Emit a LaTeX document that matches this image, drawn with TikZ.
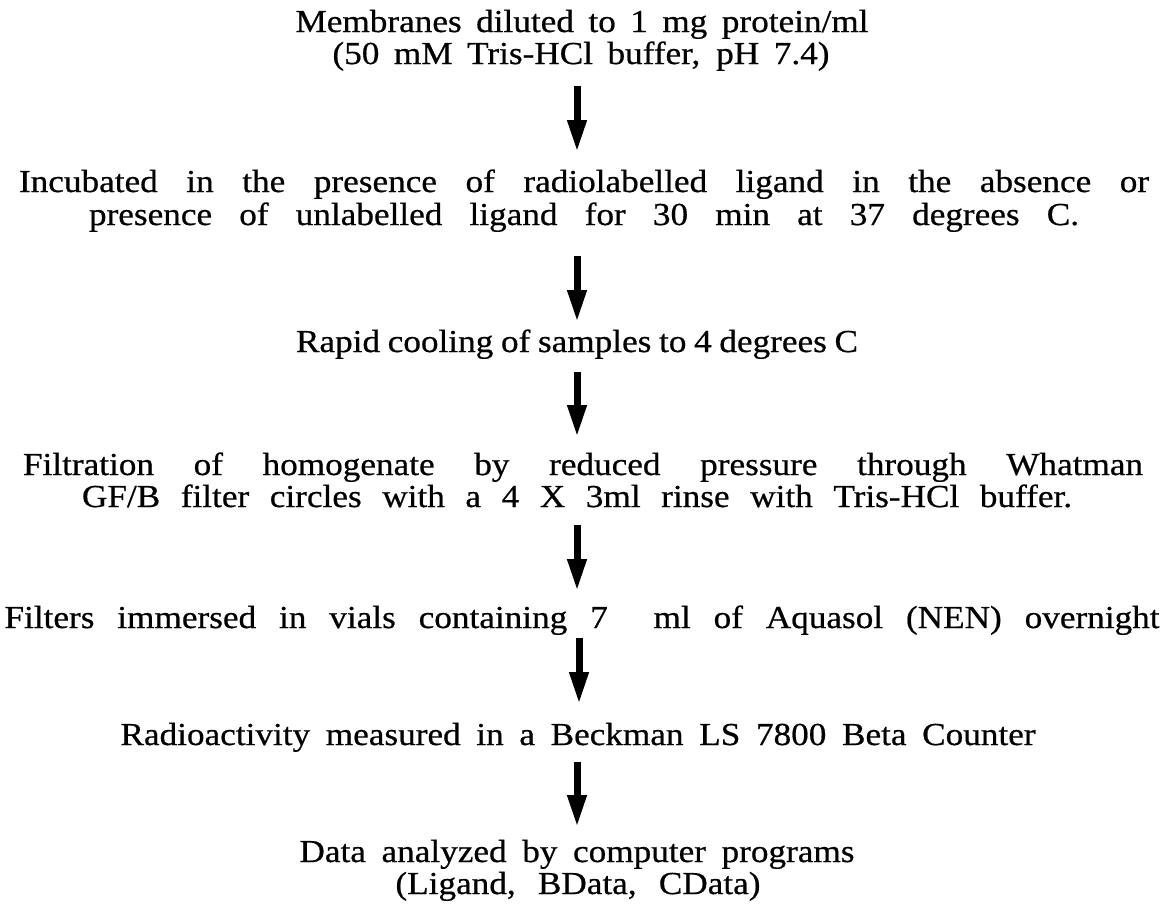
\documentclass[tikz,border=0pt]{standalone}
\usepackage{fontspec}
\setmainfont{Liberation Serif}[FakeBold=0.6, FakeStretch=1.1]
\usetikzlibrary{arrows.meta}
\newcommand{\spread}[2]{\makebox[#1pt][s]{#2}}
\begin{document}
\begin{tikzpicture}[x=1pt,y=-1pt,
  txt/.style={font=\fontsize{32}{33}\selectfont, inner sep=0pt, anchor=base},
  flow/.style={line width=7pt, -{Triangle[length=32pt,width=18pt]}}]
\fill[white] (0,0) rectangle (1164,911);
\useasboundingbox (0,0) rectangle (1164,911);
\node[txt] (l1) at (582,32) {\spread{573}{Membranes diluted to 1 mg protein/ml}};
\node[txt] (l2) at (581,64) {\spread{497}{(50 mM Tris-HCl buffer, pH 7.4)}};
\node[txt] (l3) at (584,192) {\spread{1130}{Incubated in the presence of radiolabelled ligand in the absence or}};
\node[txt] (l4) at (584,225) {\spread{990}{presence of unlabelled ligand for 30 min at 37 degrees C.}};
\node[txt] (l5) at (577,352) {\spread{562}{Rapid cooling of samples to 4 degrees C}};
\node[txt] (l6) at (583,475) {\spread{1120}{Filtration of homogenate by reduced pressure through Whatman}};
\node[txt] (l7) at (577,507) {\spread{990}{GF/B filter circles with a 4 X 3ml rinse with Tris-HCl buffer.}};
\node[txt] (l8) at (582,628) {\spread{1155}{Filters immersed in vials containing 7\ \ ml of Aquasol (NEN) overnight}};
\node[txt] (l9) at (578,745) {\spread{915}{Radioactivity measured in a Beckman LS 7800 Beta Counter}};
\node[txt] (l10) at (577,862) {\spread{555}{Data analyzed by computer programs}};
\node[txt] (l11) at (578,894) {\spread{365}{(Ligand, BData, CData)}};
\coordinate (a1s) at (577,86);  \coordinate (a1e) at (577,152);
\coordinate (a2s) at (577,256); \coordinate (a2e) at (577,322);
\coordinate (a3s) at (577,372); \coordinate (a3e) at (577,437);
\coordinate (a4s) at (577,525); \coordinate (a4e) at (577,591);
\coordinate (a5s) at (579,638); \coordinate (a5e) at (579,704);
\coordinate (a6s) at (577,762); \coordinate (a6e) at (577,827);
\draw[flow] (a1s) -- (a1e);
\draw[flow] (a2s) -- (a2e);
\draw[flow] (a3s) -- (a3e);
\draw[flow] (a4s) -- (a4e);
\draw[flow] (a5s) -- (a5e);
\draw[flow] (a6s) -- (a6e);
\end{tikzpicture}
\end{document}
